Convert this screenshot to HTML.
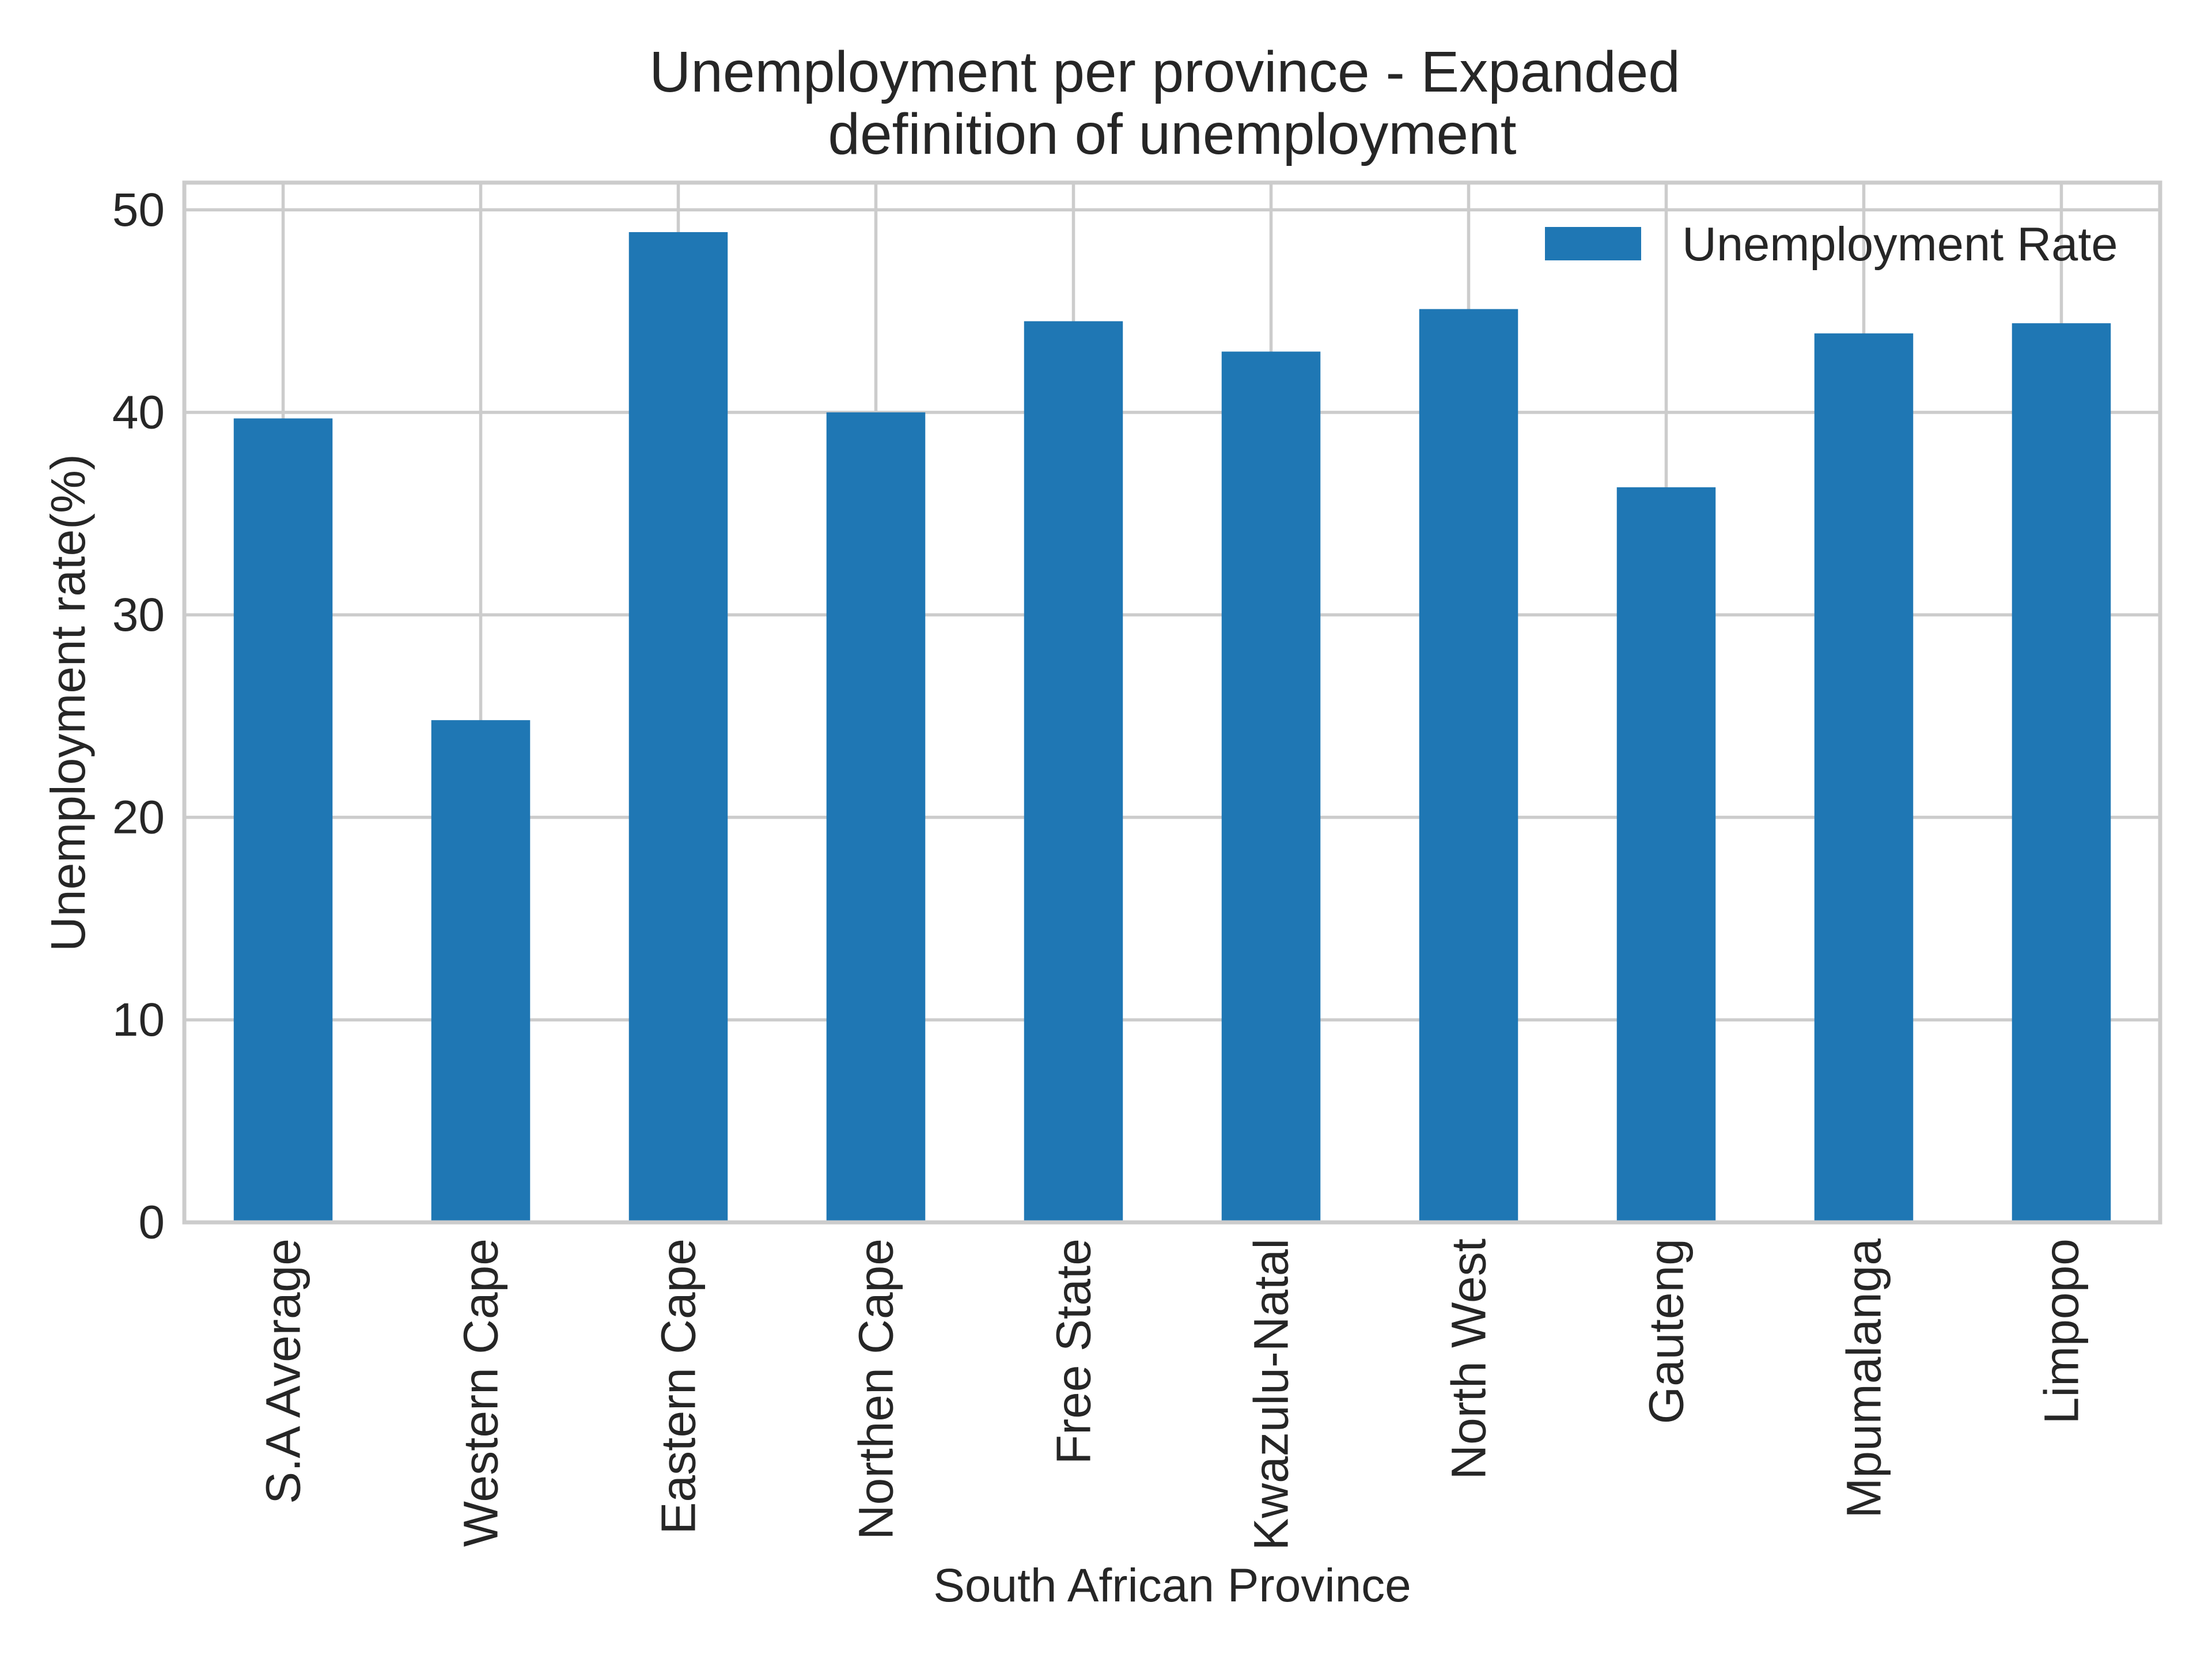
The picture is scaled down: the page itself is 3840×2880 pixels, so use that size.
<!DOCTYPE html>
<html><head><meta charset="utf-8"><style>
html,body{margin:0;padding:0;background:#fff;}
svg{display:block;font-family:"Liberation Sans",Arial,sans-serif;}
</style></head><body>
<svg id="chart" width="3840" height="2880" viewBox="0 0 3840 2880" xmlns="http://www.w3.org/2000/svg">
<rect width="3840" height="2880" fill="#fff"/>
<g id="grid"></g>
<g id="bars"></g>
<g id="spines"></g>
<g id="yticks"></g>
<g id="xticks"></g>
<text x="2022" y="159" text-anchor="middle" font-size="100" fill="#262626">Unemployment per province - Expanded</text>
<text x="2035" y="267" text-anchor="middle" font-size="100" fill="#262626">definition of unemployment</text>
<text x="118" y="1220" text-anchor="middle" dominant-baseline="central" font-size="84" fill="#262626" transform="rotate(-90 118 1220)">Unemployment rate(%)</text>
<text x="2035" y="2780" text-anchor="middle" font-size="82" fill="#262626">South African Province</text>
<g>
<rect x="2682" y="394" width="167" height="58" fill="#1f77b4"/>
<text x="2920" y="452" font-size="83" fill="#262626">Unemployment Rate</text>
</g>
</svg>
<script>
const categories = ["S.A Average","Western Cape","Eastern Cape","Northen Cape","Free State","Kwazulu-Natal","North West","Gauteng","Mpumalanga","Limpopo"];
const values = [39.7,24.8,48.9,40.0,44.5,43.0,45.1,36.3,43.9,44.4];
const yTicks = [0,10,20,30,40,50];

const NS="http://www.w3.org/2000/svg";
const L=320,R=3750,T=317,B=2122;
const yMax=Math.max(...values)*1.05;
const band=(R-L)/categories.length;
const xc=i=>L+band*(i+0.5);
const y=v=>B-(v/yMax)*(B-T);
function mk(tag,attrs,parent){const e=document.createElementNS(NS,tag);for(const k in attrs)e.setAttribute(k,attrs[k]);parent.appendChild(e);return e;}
const grid=document.getElementById('grid'),bars=document.getElementById('bars'),sp=document.getElementById('spines'),yt=document.getElementById('yticks'),xt=document.getElementById('xticks');
yTicks.forEach(t=>{
  const g=mk('line',{x1:L,x2:R,y1:y(t),y2:y(t),stroke:'#cccccc','stroke-width':5.5},grid);
  
  
  const tx=mk('text',{x:286,y:y(t),'text-anchor':'end','dominant-baseline':'central','font-size':82,fill:'#262626'},yt);
  tx.textContent=t;
  
  
});
categories.forEach((c,i)=>{
  const g=mk('line',{x1:xc(i),x2:xc(i),y1:T,y2:B,stroke:'#cccccc','stroke-width':5.5},grid);
  
  
  const w=band*0.5;
  const b=mk('rect',{x:xc(i)-w/2,y:y(values[i]),width:w,height:B-y(values[i]),fill:'#1f77b4'},bars);
  
  
  const tx=mk('text',{x:xc(i),y:2150,'text-anchor':'end','dominant-baseline':'central','font-size':84,fill:'#262626',transform:`rotate(-90 ${xc(i)} 2150)`},xt);
  tx.textContent=c;
  
  
});
const fr=mk('rect',{x:L,y:T,width:R-L,height:B-T,fill:'none',stroke:'#cccccc','stroke-width':7},sp);


</script>
</body></html>
